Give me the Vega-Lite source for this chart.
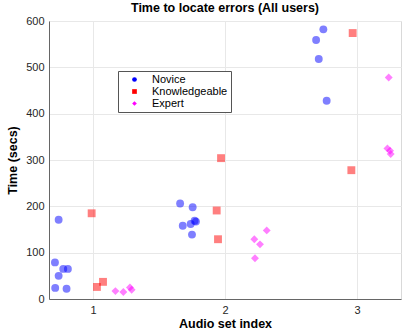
{
  "$schema": "https://vega.github.io/schema/vega-lite/v6.json",
  "width": 352,
  "height": 278,
  "autosize": {"type": "none"},
  "padding": {"left": 49, "top": 21, "right": 1, "bottom": 33},
  "config": {
    "font": "Liberation Sans",
    "view": {"stroke": "#d9d9d9", "strokeWidth": 1},
    "legend": {"symbolOpacity": 1, "symbolSize": 22},
    "axis": {
      "grid": true,
      "gridColor": "#e8e8e8",
      "domainColor": "#666666",
      "ticks": false,
      "labelFontSize": 11,
      "labelColor": "#262626",
      "titleFontSize": 12.5,
      "titleFontWeight": "bold",
      "titleColor": "#000000",
      "labelPadding": 5
    }
  },
  "title": {
    "text": "Time to locate errors (All users)",
    "fontSize": 12.5,
    "fontWeight": "bold",
    "color": "#000000",
    "offset": 1
  },
  "data": {
    "values": [
      {"set": 0.74, "time": 171, "group": "Novice"},
      {"set": 0.712, "time": 79, "group": "Novice"},
      {"set": 0.74, "time": 50, "group": "Novice"},
      {"set": 0.775, "time": 65, "group": "Novice"},
      {"set": 0.81, "time": 65, "group": "Novice"},
      {"set": 0.714, "time": 24, "group": "Novice"},
      {"set": 0.8, "time": 22, "group": "Novice"},
      {"set": 1.66, "time": 206, "group": "Novice"},
      {"set": 1.755, "time": 198, "group": "Novice"},
      {"set": 1.68, "time": 158, "group": "Novice"},
      {"set": 1.74, "time": 162, "group": "Novice"},
      {"set": 1.77, "time": 169, "group": "Novice"},
      {"set": 1.78, "time": 167, "group": "Novice"},
      {"set": 1.75, "time": 139, "group": "Novice"},
      {"set": 2.745, "time": 582, "group": "Novice"},
      {"set": 2.69, "time": 559, "group": "Novice"},
      {"set": 2.71, "time": 518, "group": "Novice"},
      {"set": 2.77, "time": 428, "group": "Novice"},
      {"set": 0.99, "time": 185, "group": "Knowledgeable"},
      {"set": 1.03, "time": 26, "group": "Knowledgeable"},
      {"set": 1.076, "time": 37, "group": "Knowledgeable"},
      {"set": 1.97, "time": 304, "group": "Knowledgeable"},
      {"set": 1.937, "time": 191, "group": "Knowledgeable"},
      {"set": 1.947, "time": 129, "group": "Knowledgeable"},
      {"set": 2.957, "time": 278, "group": "Knowledgeable"},
      {"set": 2.967, "time": 574, "group": "Knowledgeable"},
      {"set": 1.17, "time": 17, "group": "Expert"},
      {"set": 1.23, "time": 15, "group": "Expert"},
      {"set": 1.28, "time": 25, "group": "Expert"},
      {"set": 1.293, "time": 20, "group": "Expert"},
      {"set": 2.222, "time": 129, "group": "Expert"},
      {"set": 2.265, "time": 118, "group": "Expert"},
      {"set": 2.316, "time": 148, "group": "Expert"},
      {"set": 2.227, "time": 88, "group": "Expert"},
      {"set": 3.24, "time": 478, "group": "Expert"},
      {"set": 3.23, "time": 325, "group": "Expert"},
      {"set": 3.25, "time": 320, "group": "Expert"},
      {"set": 3.255, "time": 313, "group": "Expert"}
    ]
  },
  "mark": {"type": "point", "filled": true, "opacity": 0.5, "size": 62},
  "encoding": {
    "x": {
      "field": "set",
      "type": "quantitative",
      "title": "Audio set index",
      "scale": {"domain": [0.667, 3.333], "nice": false, "zero": false},
      "axis": {"values": [1, 2, 3], "titlePadding": 2}
    },
    "y": {
      "field": "time",
      "type": "quantitative",
      "title": "Time (secs)",
      "scale": {"domain": [0, 600], "nice": false},
      "axis": {"values": [0, 100, 200, 300, 400, 500, 600], "titlePadding": 6}
    },
    "color": {
      "field": "group",
      "type": "nominal",
      "scale": {"domain": ["Novice", "Knowledgeable", "Expert"], "range": ["#0000ff", "#ff0000", "#ff00ff"]},
      "legend": {
        "title": null,
        "orient": "none",
        "legendX": 69,
        "legendY": 50,
        "labelFontSize": 11,
        "labelColor": "#000000",
        "rowPadding": 0,
        "padding": 3,
        "strokeColor": "#555555",
        "fillColor": "#ffffff",
        "symbolOffset": 8,
        "labelOffset": 12
      }
    },
    "shape": {
      "field": "group",
      "type": "nominal",
      "scale": {"domain": ["Novice", "Knowledgeable", "Expert"], "range": ["circle", "square", "diamond"]}
    }
  }
}
